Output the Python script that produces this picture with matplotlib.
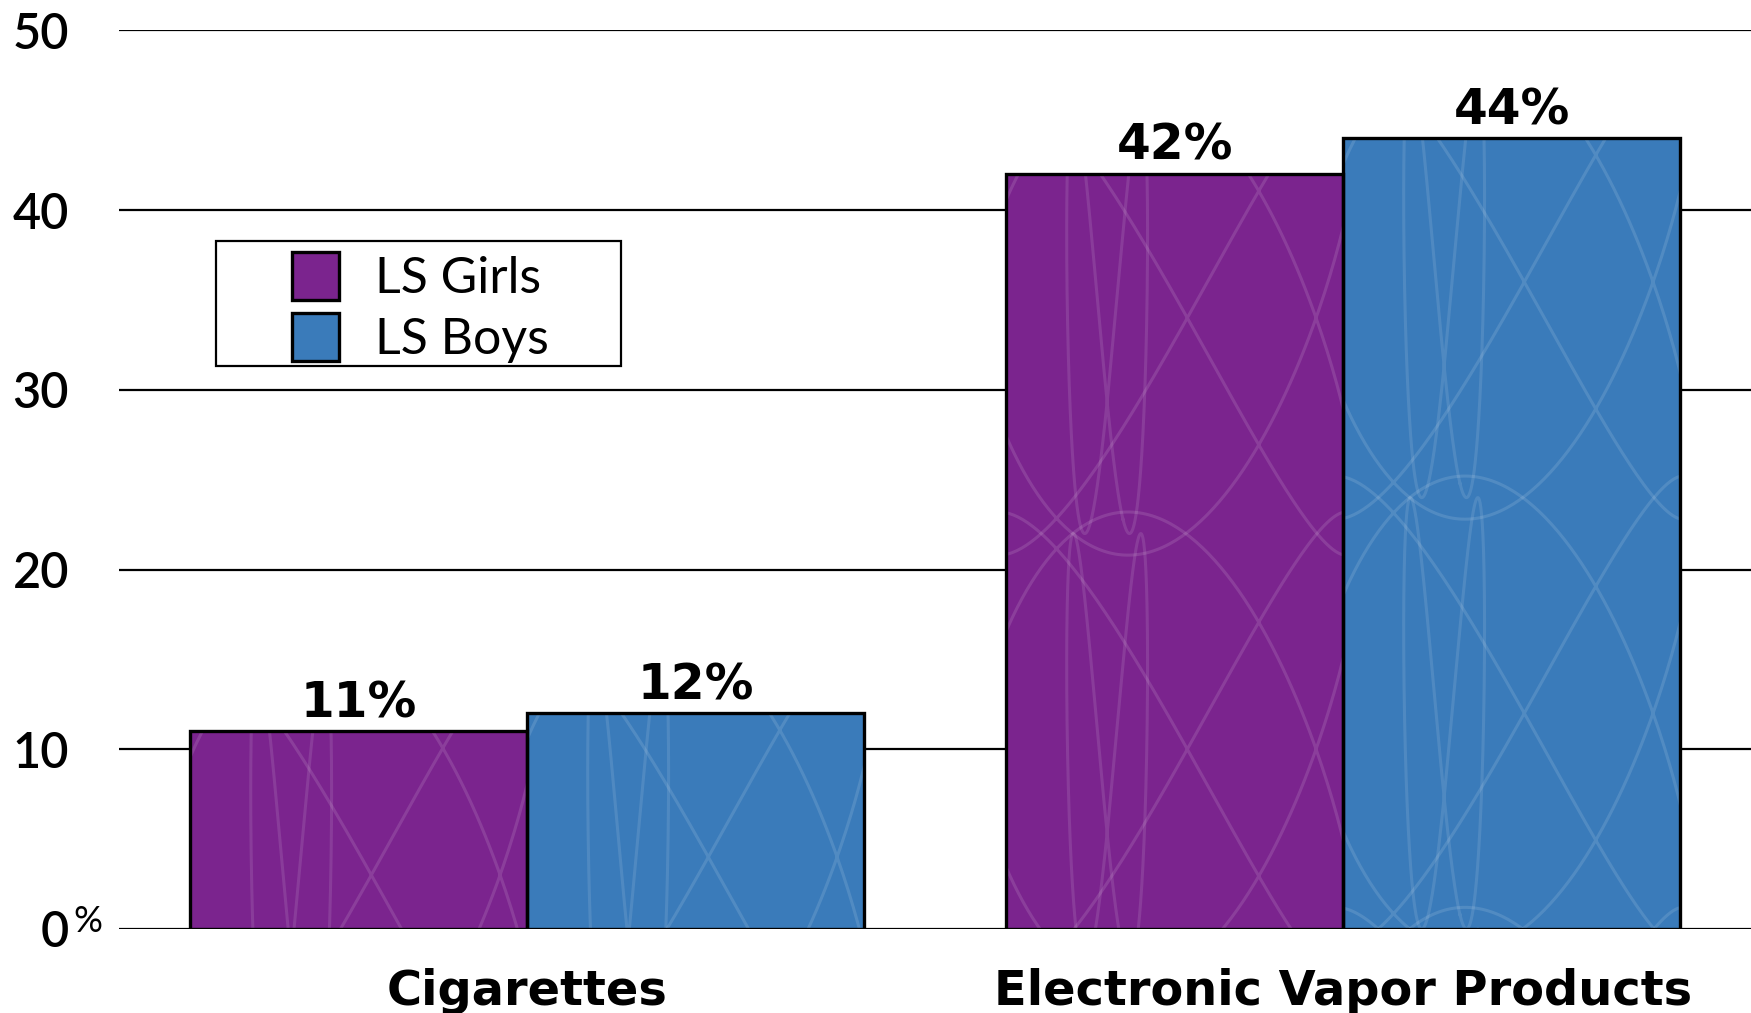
import matplotlib.pyplot as plt
import matplotlib.transforms as mtransforms
from matplotlib.patches import Patch, Rectangle
import numpy as np

categories = ['Cigarettes', 'Electronic Vapor Products']
series = ['LS Girls', 'LS Boys']
girls = [11, 42]
boys = [12, 44]
yticks = [0, 10, 20, 30, 40, 50]
colors = ['#7B248E', '#3A7BBA']

fig = plt.figure(figsize=(17.51, 10.13), dpi=100)
ax = fig.add_axes([0.068, 0.083, 0.932, 0.887])

x = np.arange(len(categories))
w = 0.413


def scribble(bar):
    # faint looping pen strokes inside a bar, tiled from the top down
    x0, bw, h = bar.get_x(), bar.get_width(), bar.get_height()
    t = np.linspace(0, 2 * np.pi, 800)
    tile = 24.0
    k = 0
    while h - k * tile > -tile:
        top = h - k * tile + 4
        u = 0.45 + 0.6 * np.sin(2 * t + 0.9)
        v = 0.5 + 0.55 * np.sin(3 * t)
        ln, = ax.plot(x0 + bw * u, top - tile * v, color='white', alpha=0.12,
                      lw=2.2, zorder=2.5)
        ln.set_clip_path(bar)
        u2 = 0.3 + 0.12 * np.sin(t + 0.4)
        v2 = 0.5 + 0.5 * np.sin(2 * t + 1.2)
        ln2, = ax.plot(x0 + bw * u2, top - tile * v2, color='white',
                       alpha=0.11, lw=2.2, zorder=2.5)
        ln2.set_clip_path(bar)
        k += 1


for offs, vals, col in [(-w / 2, girls, colors[0]), (w / 2, boys, colors[1])]:
    fills = ax.bar(x + offs, vals, w, color=col, edgecolor='none', zorder=2)
    for b in fills:
        scribble(b)
    ax.bar(x + offs, vals, w, fill=False, edgecolor='black', linewidth=2.4, zorder=3)
    for xi, v in zip(x + offs, vals):
        ax.annotate(f'{v}%', (xi, v), xytext=(0, 3), textcoords='offset points',
                    ha='center', va='bottom', fontsize=35, fontweight='bold',
                    family='DejaVu Sans')

ax.set_xlim(-0.5, 1.5)
ax.set_ylim(0, 50)
ax.set_yticks(yticks)
ax.set_yticklabels([str(v) for v in yticks], family='Lato', fontsize=35,
                   fontweight='semibold')
ax.set_xticks(x)
ax.set_xticklabels(categories, fontsize=34.5, fontweight='bold', family='DejaVu Sans')
ax.tick_params(axis='y', length=0, pad=36)
ax.tick_params(axis='x', length=0, pad=28)
for s in ax.spines.values():
    s.set_visible(False)
ax.yaxis.grid(True, color='black', linewidth=1.6)
ax.set_axisbelow(True)

trans = mtransforms.blended_transform_factory(ax.transAxes, ax.transData)
ax.text(-0.028, 0.4, '%', transform=trans, ha='left', va='center',
        fontsize=26, family='Lato')

# legend: frameless entries inside a hand-placed box
handles = [Patch(facecolor=c, edgecolor='black', linewidth=2.4) for c in colors]
ax.legend(handles, series, loc='upper left', bbox_to_anchor=(0.0906, 0.781),
          frameon=False, borderpad=0, prop={'family': 'Lato', 'size': 36},
          handlelength=0.95, handleheight=1.1, handletextpad=0.72,
          labelspacing=0.22)
ax.add_patch(Rectangle((0.0594, 0.626), 0.248, 0.140, transform=ax.transAxes,
                       fill=False, edgecolor='black', linewidth=1.6, zorder=4))

fig.savefig('out.png', dpi=100)
